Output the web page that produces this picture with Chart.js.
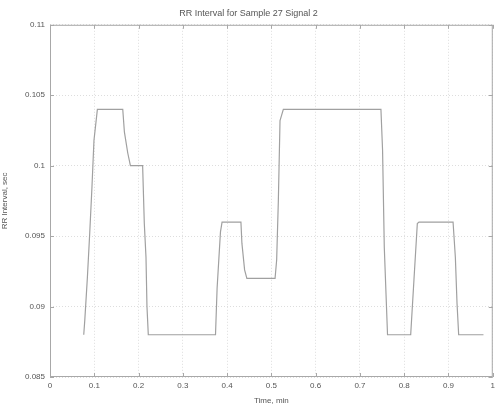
<!DOCTYPE html>
<html>
<head>
<meta charset="utf-8">
<script src="https://cdn.jsdelivr.net/npm/chart.js@4"></script>
<style>
  html, body { margin: 0; padding: 0; background: #fff; }
  #wrap { width: 499px; height: 406px; }
</style>
</head>
<body>
<div id="wrap"><canvas id="myChart" width="499" height="406"></canvas></div>
<script>
// time (min) and RR interval (sec)
const times = [0.0762, 0.0785, 0.0845, 0.0897, 0.0948, 0.0993, 0.107, 0.1643, 0.168, 0.1756, 0.1816,
    0.2092, 0.213, 0.2168, 0.219, 0.222, 0.3738, 0.3774, 0.385, 0.3886, 0.4312, 0.4334, 0.4395,
    0.4446, 0.5083, 0.5119, 0.5157, 0.5195, 0.527, 0.7474, 0.7511, 0.755, 0.7623, 0.8146, 0.822,
    0.8296, 0.8333, 0.9103, 0.9155, 0.9193, 0.923, 0.979];
const rr = [0.088, 0.089, 0.0921, 0.0952, 0.0985, 0.1018, 0.104, 0.104, 0.1024, 0.1009, 0.1,
    0.1, 0.0959, 0.0935, 0.09, 0.088, 0.088, 0.0913, 0.0953, 0.096, 0.096, 0.0945, 0.0926,
    0.092, 0.092, 0.0933, 0.0975, 0.1032, 0.104, 0.104, 0.1011, 0.0942, 0.088, 0.088, 0.0919,
    0.0959, 0.096, 0.096, 0.0935, 0.0902, 0.088, 0.088];
const xTicks = [0, 0.1, 0.2, 0.3, 0.4, 0.5, 0.6, 0.7, 0.8, 0.9, 1];
const yTicks = [0.085, 0.09, 0.095, 0.1, 0.105, 0.11];

const axisColor = '#a8a8a8';
const textColor = '#555';

// box round the plot and matlab style inward ticks
const boxPlugin = {
    id: 'box',
    afterDraw(chart) {
        const ctx = chart.ctx;
        const a = chart.chartArea;
        const xs = chart.scales.x, ys = chart.scales.y;
        ctx.save();
        ctx.strokeStyle = axisColor;
        ctx.lineWidth = 1;
        ctx.strokeRect(a.left + 0.5, a.top + 0.5, a.right - a.left - 1, a.bottom - a.top - 1);
        ctx.beginPath();
        xTicks.forEach(v => {
            const px = Math.round(xs.getPixelForValue(v)) + 0.5;
            ctx.moveTo(px, a.bottom); ctx.lineTo(px, a.bottom - 4);
            ctx.moveTo(px, a.top); ctx.lineTo(px, a.top + 4);
        });
        yTicks.forEach(v => {
            const py = Math.round(ys.getPixelForValue(v)) + 0.5;
            ctx.moveTo(a.left, py); ctx.lineTo(a.left + 4, py);
            ctx.moveTo(a.right, py); ctx.lineTo(a.right - 4, py);
        });
        ctx.stroke();
        ctx.restore();
    }
};

const data = {
    datasets: [{
        label: 'RR',
        data: times.map((t, i) => ({x: t, y: rr[i]})),
        borderColor: '#a0a0a0',
        borderWidth: 1.2,
        pointRadius: 0,
        showLine: true,
        fill: false,
        tension: 0
    }]
};

const config = {
    type: 'scatter',
    data: data,
    options: {
        responsive: false,
        animation: false,
        layout: { padding: { left: 0, right: 2, top: 1, bottom: 0 } },
        plugins: {
            legend: { display: false },
            tooltip: { enabled: false },
            title: {
                display: true,
                text: 'RR Interval for Sample 27 Signal 2',
                color: textColor,
                font: { family: 'Liberation Sans', size: 9, weight: 'normal' },
                padding: { top: 7, bottom: 6 }
            }
        },
        scales: {
            x: {
                type: 'linear',
                min: 0, max: 1,
                afterBuildTicks: (s) => { s.ticks = xTicks.map(v => ({value: v})); },
                afterFit: (s) => { s.height = 29; },
                ticks: {
                    color: textColor,
                    font: { family: 'Liberation Sans', size: 8 },
                    padding: 4,
                    maxRotation: 0,
                    callback: (v) => String(parseFloat(v.toFixed(3)))
                },
                grid: { color: '#dddddd', lineWidth: 1, drawTicks: false },
                border: { display: false, dash: [1, 2] },
                title: {
                    display: true,
                    text: 'Time, min',
                    color: textColor,
                    font: { family: 'Liberation Sans', size: 8 },
                    padding: { top: 1, bottom: 0 }
                }
            },
            y: {
                type: 'linear',
                min: 0.085, max: 0.11,
                afterBuildTicks: (s) => { s.ticks = yTicks.map(v => ({value: v})); },
                afterFit: (s) => { s.width = 50; },
                ticks: {
                    color: textColor,
                    font: { family: 'Liberation Sans', size: 8 },
                    padding: 5,
                    callback: (v) => String(parseFloat(v.toFixed(3)))
                },
                grid: { color: '#dddddd', lineWidth: 1, drawTicks: false },
                border: { display: false, dash: [1, 2] },
                title: {
                    display: true,
                    text: 'RR Interval, sec',
                    color: textColor,
                    font: { family: 'Liberation Sans', size: 8 },
                    padding: { top: 0, bottom: 4 }
                }
            }
        }
    },
    plugins: [boxPlugin]
};

const myChart = new Chart(document.getElementById('myChart'), config);
</script>
</body>
</html>
